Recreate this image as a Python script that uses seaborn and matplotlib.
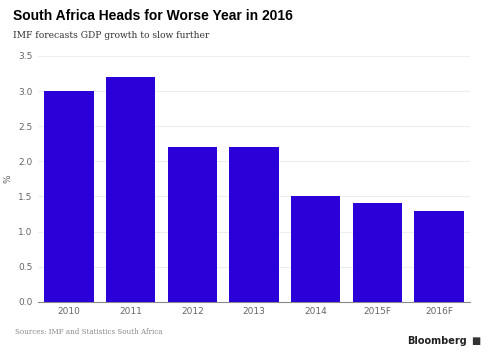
import matplotlib
matplotlib.use('Agg')
import matplotlib.pyplot as plt
import seaborn as sns
import pandas as pd

years = ['2010', '2011', '2012', '2013', '2014', '2015F', '2016F']
growth = [3.0, 3.2, 2.2, 2.2, 1.5, 1.4, 1.3]
yticks = [0.0, 0.5, 1.0, 1.5, 2.0, 2.5, 3.0, 3.5]

df = pd.DataFrame({'year': years, 'growth': growth})

sns.set_style('white')
plt.rcParams['font.family'] = ['DejaVu Sans']

fig = plt.figure(figsize=(4.88, 3.56), dpi=100)
ax = fig.add_axes([0.078, 0.152, 0.885, 0.691])

sns.barplot(data=df, x='year', y='growth', color='#2b00d8', saturation=1,
            width=0.8, linewidth=0, ax=ax, zorder=3)

ax.set_ylim(0, 3.5)
ax.set_yticks(yticks)
ax.set_yticklabels([f'{t:.1f}' for t in yticks])
ax.grid(axis='y', color='#eeeeee', linewidth=0.8, zorder=0)
ax.grid(axis='x', visible=False)
for s in ['top', 'right', 'left']:
    ax.spines[s].set_visible(False)
ax.spines['bottom'].set_color('#888888')
ax.spines['bottom'].set_linewidth(0.8)
ax.tick_params(axis='both', length=0, labelsize=6.5, colors='#666666', pad=4)
ax.set_xlabel('')
ax.set_ylabel('%', fontsize=6.5, color='#666666', labelpad=4)

fig.text(0.027, 0.955, 'South Africa Heads for Worse Year in 2016',
         fontsize=10, fontweight='bold', family='Liberation Sans',
         color='black', va='center')
fig.text(0.027, 0.9, 'IMF forecasts GDP growth to slow further',
         fontsize=6.6, family='DejaVu Serif', color='#333333', va='center')
fig.text(0.031, 0.068, 'Sources: IMF and Statistics South Africa',
         fontsize=5.1, family='DejaVu Serif', color='#888888', va='center')
fig.text(0.957, 0.042, 'Bloomberg', fontsize=7, fontweight='bold',
         color='#222222', ha='right', va='center')
fig.text(0.965, 0.042, '\u25a0', fontsize=7, color='#333333', va='center')

fig.savefig('out.png', dpi=100)
